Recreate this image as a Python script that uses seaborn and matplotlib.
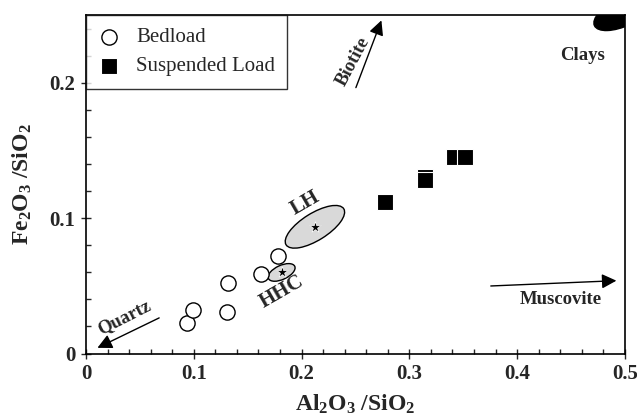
import numpy as np
import pandas as pd
import seaborn as sns
import matplotlib.pyplot as plt
from matplotlib.patches import Ellipse
from matplotlib.transforms import ScaledTranslation

# bedload (open circles)
bed_x = [0.094, 0.0993, 0.131, 0.132, 0.162, 0.178]
bed_y = [0.0223, 0.032, 0.0306, 0.052, 0.0584, 0.0722]
# suspended load (black squares)
sus_x = [0.277, 0.3145, 0.3145, 0.341, 0.352]
sus_y = [0.112, 0.1306, 0.128, 0.145, 0.145]
# field centres (stars)
lh_xy = (0.2124, 0.0936)
hhc_xy = (0.1815, 0.0599)
clay_xy = (0.4995, 0.2525)

sns.set_style('ticks')
plt.rcParams['font.family'] = ['Liberation Serif', 'DejaVu Serif']
plt.rcParams['mathtext.fontset'] = 'custom'
plt.rcParams['mathtext.rm'] = 'Liberation Serif:bold'
plt.rcParams['mathtext.default'] = 'rm'

fig = plt.figure(figsize=(6.37, 4.19), dpi=100)
ax = fig.add_axes([0.135, 0.1563, 0.846, 0.8077])

def blob(xy, w, h, ang, fc, z=1):
    # w, h in pixels (display), placed at a data point
    tr = fig.dpi_scale_trans + ScaledTranslation(xy[0], xy[1], ax.transData)
    e = Ellipse((0, 0), w / 100, h / 100, angle=ang, transform=tr,
                facecolor=fc, edgecolor='black', lw=1, zorder=z)
    ax.add_patch(e)

blob(lh_xy, 68, 27, 32, '#d9d9d9')
blob(hhc_xy, 29, 14, 25, '#d9d9d9')
blob(clay_xy, 66, 28, 25, 'black')

sns.scatterplot(x=bed_x, y=bed_y, marker='o', s=120, facecolor='white',
                edgecolor='black', linewidth=1, label='Bedload', ax=ax, zorder=3)
sns.scatterplot(x=sus_x, y=sus_y, marker='s', s=120, color='black',
                edgecolor='white', linewidth=0.8, label='Suspended Load', ax=ax, zorder=3)
ax.scatter([lh_xy[0], hhc_xy[0]], [lh_xy[1], hhc_xy[1]], marker='*', s=70,
           color='black', edgecolor='white', linewidth=0.5, zorder=4)

ax.set_xlim(0, 0.5)
ax.set_ylim(0, 0.25)
ax.set_xticks([0, 0.1, 0.2, 0.3, 0.4, 0.5])
ax.set_xticklabels(['0', '0.1', '0.2', '0.3', '0.4', '0.5'])
ax.set_yticks([0, 0.1, 0.2])
ax.set_yticklabels(['0', '0.1', '0.2'])
ax.set_xticks(np.arange(0, 0.51, 0.02), minor=True)
ax.set_yticks(np.arange(0, 0.25, 0.02), minor=True)
ax.tick_params(which='major', direction='inout', length=7, width=1, labelsize=15, pad=4)
ax.tick_params(which='minor', direction='in', length=3.5, width=1)
for lab in ax.get_xticklabels() + ax.get_yticklabels():
    lab.set_fontweight('bold')
for s in ax.spines.values():
    s.set_linewidth(1.2)
    s.set_color('black')

ax.set_xlabel(r'Al$_2$O$_3$ /SiO$_2$', fontsize=17, fontweight='bold', labelpad=6)
ax.set_ylabel(r'Fe$_2$O$_3$ /SiO$_2$', fontsize=17, fontweight='bold', labelpad=11)

leg = ax.legend(loc='upper left', borderaxespad=0, fontsize=15, frameon=True,
                fancybox=False, edgecolor='black', handletextpad=0.8,
                borderpad=0.6, labelspacing=0.45, handlelength=1.0)
leg.get_frame().set_linewidth(1)

arrow = dict(arrowstyle='-|>', color='black', lw=1, mutation_scale=22)
ax.annotate('', xy=(0.275, 0.248), xytext=(0.2495, 0.1945), arrowprops=arrow)
ax.annotate('', xy=(0.4947, 0.0539), xytext=(0.373, 0.0498), arrowprops=arrow)
ax.annotate('', xy=(0.0083, 0.0033), xytext=(0.0702, 0.0272), arrowprops=arrow)

tkw = dict(fontweight='bold', ha='center', va='center')
ax.text(0.2475, 0.216, 'Biotite', rotation=62, fontsize=13.5, **tkw)
ax.text(0.4406, 0.0402, 'Muscovite', fontsize=13.5, **tkw)
ax.text(0.0353, 0.0267, 'Quartz', rotation=27, fontsize=13.5, **tkw)
ax.text(0.461, 0.220, 'Clays', fontsize=13.5, **tkw)
ax.text(0.203, 0.111, 'LH', rotation=30, fontsize=15, **tkw)
ax.text(0.182, 0.0456, 'HHC', rotation=30, fontsize=15, **tkw)

fig.savefig('out.png', dpi=100)
